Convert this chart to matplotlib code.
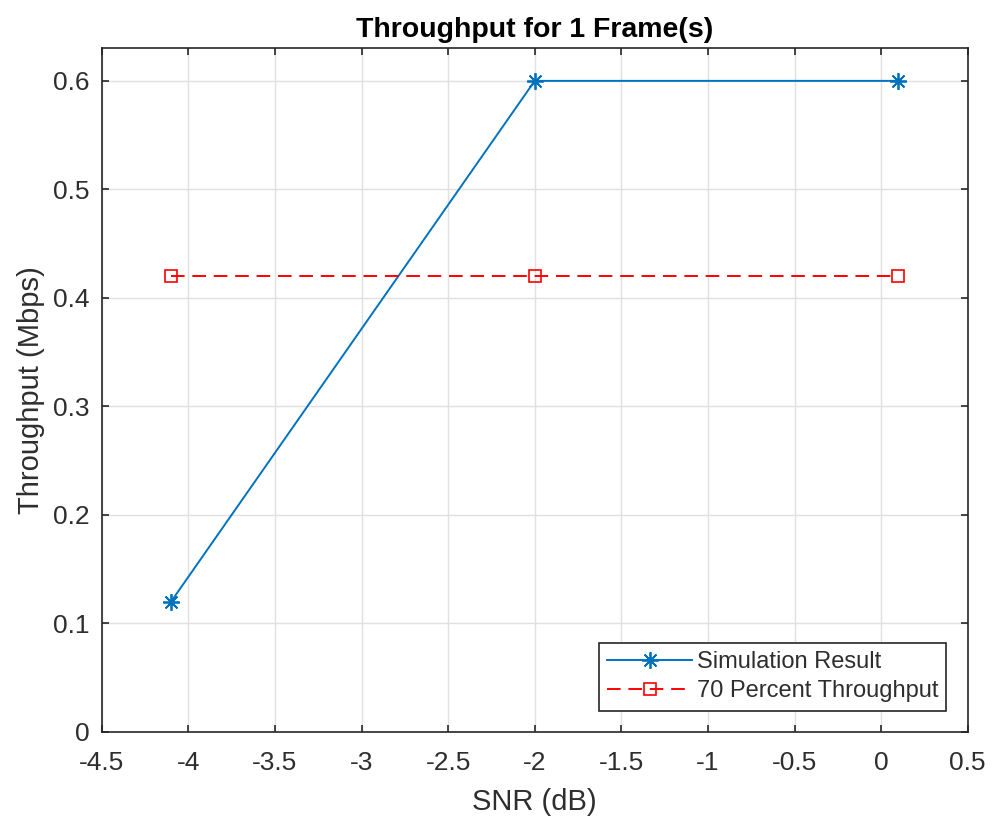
import matplotlib.pyplot as plt

snr = [-4.1, -2.0, 0.1]
throughput = [0.12, 0.6, 0.6]
target = [0.42, 0.42, 0.42]

xticks = [-4.5, -4, -3.5, -3, -2.5, -2, -1.5, -1, -0.5, 0, 0.5]
xticklabels = ["-4.5", "-4", "-3.5", "-3", "-2.5", "-2", "-1.5", "-1", "-0.5", "0", "0.5"]
yticks = [0, 0.1, 0.2, 0.3, 0.4, 0.5, 0.6]
yticklabels = ["0", "0.1", "0.2", "0.3", "0.4", "0.5", "0.6"]

plt.rcParams['font.family'] = ['Liberation Sans', 'DejaVu Sans']
dark = "#2e2e2e"

fig = plt.figure(figsize=(9.95, 8.23), dpi=100)
ax = fig.add_axes([0.1022, 0.1106, 0.8704, 0.8307])

ax.plot(snr, throughput, color="#0072BD", lw=1.4, marker=(8, 2, 0),
        markersize=12, markeredgewidth=1.3, label="Simulation Result")
ax.plot(snr, target, color="red", lw=1.4, ls=(0, (7, 4)), marker="s",
        markersize=9, markerfacecolor="none", markeredgewidth=1.2,
        label="70 Percent Throughput")

ax.set_xlim(-4.5, 0.5)
ax.set_ylim(0, 0.63)
ax.set_xticks(xticks)
ax.set_xticklabels(xticklabels)
ax.set_yticks(yticks)
ax.set_yticklabels(yticklabels)

ax.grid(True, color="#e0e0e0", lw=1.0)
ax.set_axisbelow(True)
for s in ax.spines.values():
    s.set_color("#262626")
    s.set_linewidth(1.2)
ax.tick_params(direction="in", length=5, width=1.2, colors="#262626",
               labelcolor=dark, labelsize=19, top=True, right=True)
ax.tick_params(axis="x", pad=14)
ax.tick_params(axis="y", pad=9)

ax.set_title("Throughput for 1 Frame(s)", fontsize=20.5, fontweight="bold", pad=8)
ax.set_xlabel("SNR (dB)", fontsize=21, color=dark, labelpad=9)
ax.set_ylabel("Throughput (Mbps)", fontsize=21, color=dark, labelpad=5.5)

leg = ax.legend(loc="lower right", fontsize=17, fancybox=False, framealpha=1,
                edgecolor="#262626", borderaxespad=0.9, handlelength=3.6,
                borderpad=0.35, labelspacing=0.3, handletextpad=0.2)
leg.get_frame().set_linewidth(1.2)
for t in leg.get_texts():
    t.set_color(dark)

fig.savefig("out.png", dpi=100)
